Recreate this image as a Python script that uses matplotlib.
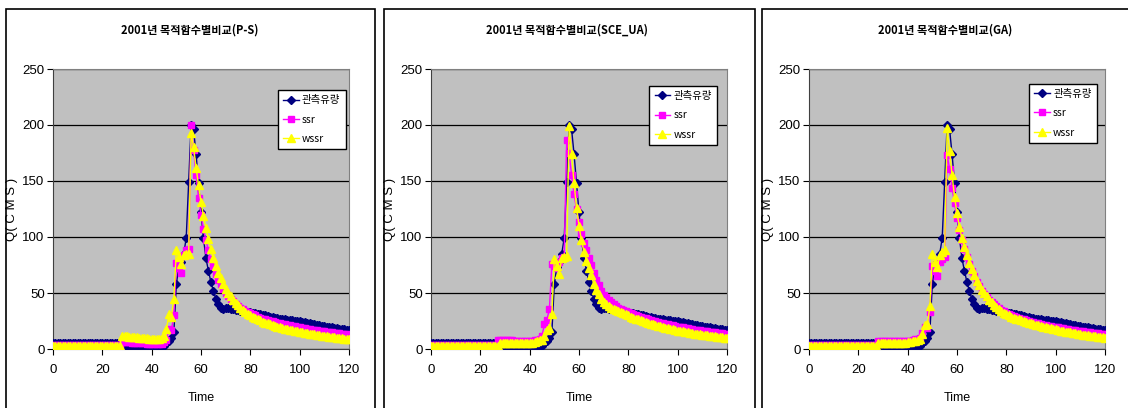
import matplotlib
matplotlib.use("Agg")
import matplotlib.pyplot as plt
from matplotlib.patches import Rectangle

plt.rcParams['font.family'] = ['Noto Sans CJK KR', 'DejaVu Sans']
narrow = ['Liberation Sans', 'DejaVu Sans']

# time steps 0..120
time = list(range(121))

# observed flow (same in all three panels)
obs = [5, 5, 5, 5, 5, 5, 5, 5, 5, 5,
       5, 5, 5, 5, 5, 5, 5, 5, 5, 5,
       5, 5, 5, 5, 5, 5, 5, 5, 0.5, 0.5,
       0.5, 0.5, 0.5, 0.5, 0.5, 0.5, 0.5, 0.6, 0.7, 0.8,
       0.9, 1.0, 1.2, 1.5, 2, 3, 5, 7, 10, 15,
       58, 73, 78, 85, 99, 149, 200, 196, 174, 148,
       122, 99, 81, 70, 60, 52, 45, 40, 37, 36,
       37, 36.5, 36, 35.5, 35, 34.5, 34, 33.5, 33, 33,
       33, 32.5, 32, 31.5, 31, 30.5, 30, 29.5, 29, 28.5,
       28, 27.5, 27, 26.8, 26.5, 26, 25.8, 25.5, 25.2, 25,
       24.8, 24.5, 24, 23.5, 23, 22.5, 22, 21.5, 21, 20.8,
       20.5, 20, 19.5, 19.2, 19, 18.5, 18, 17.8, 17.5, 17.2,
       17]

# P-S
ssr_ps = [4, 4, 4, 4, 4, 4, 4, 4, 4, 4,
          4, 4, 4, 4, 4, 4, 4, 4, 4, 4,
          4, 4, 4, 4, 4, 4, 4, 4, 6.5, 6.3,
          6.1, 6, 5.8, 5.6, 5.5, 5.3, 5.2, 5, 4.9, 4.8,
          4.6, 4.5, 4.4, 4.3, 4.5, 6, 8, 18, 17, 30,
          77, 72, 68, 84, 88, 89, 200, 178, 155, 135,
          120, 107, 97, 88, 80, 74, 67, 62, 58, 54,
          50, 47, 45, 42.5, 40.5, 38.5, 37, 35.5, 34, 33,
          32, 31, 30, 29, 28, 27.2, 26.5, 25.8, 25.2, 24.6,
          24, 23.5, 23, 22.5, 22, 21.5, 21, 20.6, 20.2, 19.8,
          19.4, 19, 18.6, 18.2, 17.8, 17.4, 17, 16.7, 16.4, 16.1,
          15.8, 15.5, 15.2, 14.9, 14.6, 14.3, 14, 13.7, 13.4, 13.1,
          12.8]
wssr_ps = [3, 3, 3, 3, 3, 3, 3, 3, 3, 3,
           3, 3, 3, 3, 3, 3, 3, 3, 3, 3,
           3, 3, 3, 3, 3, 3, 3, 3, 12, 11.5,
           11.2, 11, 10.8, 10.5, 10.3, 10, 9.8, 9.6, 9.4, 9.2,
           9, 8.8, 8.7, 8.6, 10, 12, 18, 31, 29, 45,
           88, 82, 76, 84, 85, 85, 193, 180, 162, 146,
           131, 119, 108, 98, 89, 81, 74, 68, 63, 58,
           54, 50, 47, 44, 41.5, 39, 37, 35, 33, 31.5,
           30, 28.8, 27.6, 26.5, 25.5, 24.5, 23.6, 22.8, 22, 21.3,
           20.6, 20, 19.4, 18.8, 18.2, 17.7, 17.2, 16.7, 16.2, 15.8,
           15.3, 14.9, 14.5, 14.1, 13.7, 13.3, 13, 12.6, 12.3, 12,
           11.6, 11.3, 11, 10.7, 10.4, 10.1, 9.8, 9.5, 9.2, 8.9,
           8.6]

# SCE_UA
ssr_sce = [4, 4, 4, 4, 4, 4, 4, 4, 4, 4,
           4, 4, 4, 4, 4, 4, 4, 4, 4, 4,
           4, 4, 4, 4, 4, 4, 4, 8, 8, 8,
           8, 8, 7.8, 7.6, 7.5, 7.4, 7.3, 7.2, 7.2, 7.2,
           7.3, 7.5, 7.8, 8.2, 9, 12, 22, 26, 36, 76,
           74, 72, 78, 81, 82, 187, 175, 155, 138, 125,
           113, 103, 95, 88, 81, 75, 68, 62, 57, 52,
           48, 46, 44, 42, 40, 38.5, 37, 36, 35, 34,
           33.2, 32.3, 31.4, 30.5, 29.7, 28.9, 28.1, 27.4, 26.7, 26,
           25.4, 24.8, 24.2, 23.6, 23, 22.5, 22, 21.5, 21, 20.5,
           20, 19.6, 19.2, 18.8, 18.4, 18, 17.6, 17.2, 16.9, 16.6,
           16.3, 16, 15.7, 15.4, 15.1, 14.8, 14.5, 14.2, 13.9, 13.6,
           13.3]
wssr_sce = [2.5, 2.5, 2.5, 2.5, 2.5, 2.5, 2.5, 2.5, 2.5, 2.5,
            2.5, 2.5, 2.5, 2.5, 2.5, 2.5, 2.5, 2.5, 2.5, 2.5,
            2.5, 2.5, 2.5, 2.5, 2.5, 2.5, 2.5, 2.5, 5, 5,
            5, 5, 5, 5, 5, 5, 5, 5, 5, 5,
            5.2, 5.5, 6, 7, 8, 8, 12, 17, 19, 31,
            80, 74, 67, 81, 82, 83, 199, 174, 148, 126,
            110, 97, 87, 79, 72, 66, 58, 53, 49, 45,
            42, 40, 38.5, 37, 36, 35, 34, 33, 32, 31,
            30, 29, 28, 27.2, 26.4, 25.6, 24.8, 24.1, 23.4, 22.7,
            22, 21.4, 20.8, 20.2, 19.6, 19, 18.5, 18, 17.5, 17,
            16.5, 16.1, 15.7, 15.3, 14.9, 14.5, 14.1, 13.8, 13.5, 13.2,
            12.9, 12.6, 12.3, 12, 11.7, 11.4, 11.1, 10.8, 10.5, 10.2,
            9.9]

# GA
ssr_ga = [4, 4, 4, 4, 4, 4, 4, 4, 4, 4,
          4, 4, 4, 4, 4, 4, 4, 4, 4, 4,
          4, 4, 4, 4, 4, 4, 4, 4, 7, 7,
          7, 7, 7, 7, 7, 7, 7, 7, 7, 7,
          7.2, 7.5, 8, 8.5, 9, 10, 14, 20, 19, 33,
          74, 70, 65, 78, 80, 82, 173, 161, 144, 130,
          117, 106, 97, 89, 82, 76, 70, 65, 60, 56,
          52, 49, 46, 44, 42, 40, 38, 36.5, 35, 34,
          32.5, 31.5, 30.5, 29.6, 28.8, 28, 27.2, 26.5, 25.8, 25.1,
          24.5, 23.9, 23.3, 22.8, 22.3, 21.8, 21.3, 20.9, 20.4, 20,
          19.6, 19.2, 18.8, 18.4, 18, 17.6, 17.2, 16.9, 16.6, 16.3,
          16, 15.7, 15.4, 15.1, 14.8, 14.5, 14.2, 13.9, 13.6, 13.3,
          13]
wssr_ga = [3, 3, 3, 3, 3, 3, 3, 3, 3, 3,
           3, 3, 3, 3, 3, 3, 3, 3, 3, 3,
           3, 3, 3, 3, 3, 3, 3, 3, 5.5, 5.5,
           5.5, 5.5, 5.5, 5.5, 5.5, 5.5, 5.5, 5.5, 5.6, 5.8,
           6, 6.5, 7, 7.5, 8, 9, 13, 21, 22, 38,
           85, 78, 73, 84, 87, 88, 197, 177, 155, 136,
           121, 109, 99, 91, 84, 77, 71, 66, 61, 57,
           53, 50, 47, 44, 42, 39.5, 37.5, 35.5, 34, 32,
           31, 30, 29, 28, 27.2, 26.4, 25.6, 24.9, 24.2, 23.5,
           22.8, 22.2, 21.6, 21, 20.4, 19.9, 19.4, 18.9, 18.4, 18,
           17.5, 17, 16.5, 16, 15.6, 15.2, 14.8, 14.4, 14, 13.6,
           13.2, 12.8, 12.5, 12.2, 11.9, 11.6, 11.3, 11, 10.7, 10.4,
           10]

titles = ["2001년 목적함수별비교(P-S)", "2001년 목적함수별비교(SCE_UA)", "2001년 목적함수별비교(GA)"]
series_labels = ["관측유량", "ssr", "wssr"]
ssr_all = [ssr_ps, ssr_sce, ssr_ga]
wssr_all = [wssr_ps, wssr_sce, wssr_ga]

W, H = 1128, 408
fig = plt.figure(figsize=(W / 100, H / 100), dpi=100)

# panel frames (left, right in px), axes (left px), legend box (axes coords)
frames = [(6, 375), (384, 755), (762, 1140)]
title_x = [190, 567, 945]
ax_left = [53, 431, 809]
ax_w = 296
ax_top, ax_bot = 69, 349
legend_pos = [(0.76, 0.925), (0.738, 0.94), (0.744, 0.948)]

for i in range(3):
    fl, fr = frames[i]
    fig.patches.append(Rectangle((fl / W, -0.1), (fr - fl) / W, (H - 9) / H + 0.1,
                                 transform=fig.transFigure, fill=False,
                                 edgecolor='black', linewidth=1.2))
    fig.text(title_x[i] / W, 1 - 30 / H, titles[i],
             ha='center', va='center', fontsize=8, fontweight='bold')

    ax = fig.add_axes([ax_left[i] / W, 1 - ax_bot / H, ax_w / W, (ax_bot - ax_top) / H])
    ax.set_facecolor('#C0C0C0')
    ax.plot(time, obs, color='#000080', marker='D', markersize=4, linewidth=1,
            label=series_labels[0], zorder=3)
    ax.plot(time, ssr_all[i], color='#FF00FF', marker='s', markersize=5, linewidth=1,
            label=series_labels[1], zorder=4)
    ax.plot(time, wssr_all[i], color='#FFFF00', marker='^', markersize=6, linewidth=1,
            label=series_labels[2], zorder=5)

    ax.set_xlim(0, 120)
    ax.set_ylim(0, 250)
    ax.set_xticks([0, 20, 40, 60, 80, 100, 120])
    ax.set_yticks([0, 50, 100, 150, 200, 250])
    ax.yaxis.grid(True, color='black', linewidth=0.9)
    ax.set_axisbelow(True)
    for s in ['top', 'right']:
        ax.spines[s].set_color('#808080')
    for s in ['left', 'bottom']:
        ax.spines[s].set_color('#404040')
    ax.tick_params(direction='out', length=4, width=0.8, labelsize=9.5)
    ax.tick_params(axis='x', pad=7)
    ax.tick_params(axis='y', pad=2)
    for lab in ax.get_xticklabels() + ax.get_yticklabels():
        lab.set_family(narrow)
    ax.set_xlabel("Time", fontsize=9, family=narrow)
    ax.xaxis.set_label_coords(0.5, -0.155)
    ax.set_ylabel("Q( C M S )", fontsize=9.5, family=narrow)
    ax.yaxis.set_label_coords(-0.118, 0.5)

    lg = ax.legend(loc='upper left', bbox_to_anchor=legend_pos[i], borderaxespad=0,
                   fontsize=7.5, fancybox=False, framealpha=1, edgecolor='black',
                   handlelength=1.5, handletextpad=0.3, labelspacing=0.9,
                   borderpad=0.5)
    lg.get_frame().set_linewidth(1)

fig.savefig("out.png", dpi=100)
